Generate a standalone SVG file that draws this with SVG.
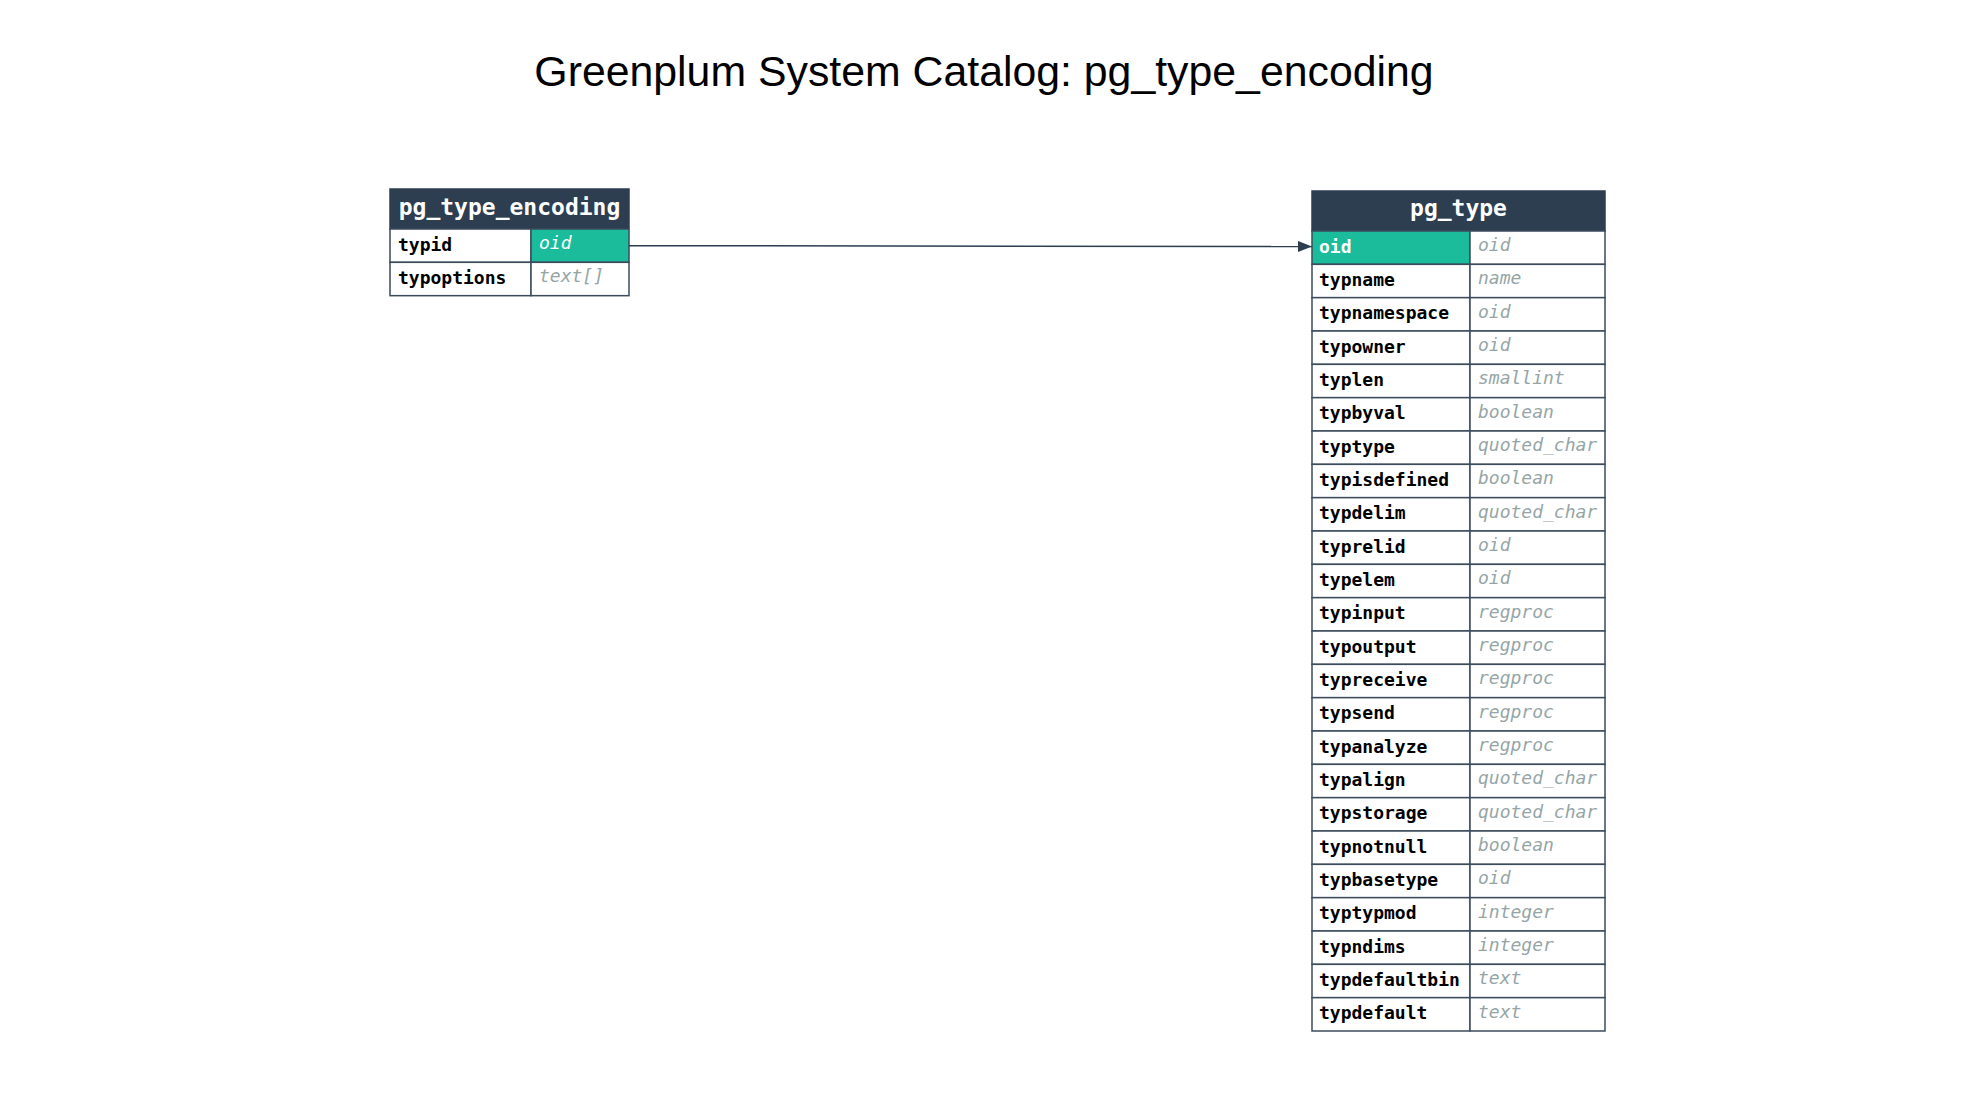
<svg xmlns="http://www.w3.org/2000/svg" width="1968" height="1105" viewBox="0 0 1968 1105">
<style>
.title{font-family:"Liberation Sans",Arial,sans-serif;font-size:42.8px;fill:#000}
.hdr{fill:#2c3e50;stroke:#2c3e50;stroke-width:1.5}
.htx{font-family:"DejaVu Sans Mono",monospace;font-weight:bold;font-size:23px;fill:#fff}
.cell{fill:#fff;stroke:#3b4b5c;stroke-width:1.5}
.pk{fill:#1abc9c;stroke:#3b4b5c;stroke-width:1.5}
.nm{font-family:"DejaVu Sans Mono",monospace;font-weight:bold;font-size:18px;fill:#000}
.ty{font-family:"DejaVu Sans Mono",monospace;font-style:italic;font-size:18px;fill:#95a5a6}
.wt{fill:#fff}
.edge{stroke:#2c3e50;stroke-width:1.5;fill:none}
</style>
<defs>
<marker id="arr" viewBox="0 0 10 10" refX="10" refY="5" markerWidth="14" markerHeight="11" markerUnits="userSpaceOnUse" orient="auto" preserveAspectRatio="none">
<path d="M0,0 L10,5 L0,10 Z" fill="#2c3e50"/>
</marker>
</defs>
<rect width="1968" height="1105" fill="#fff"/>
<text class="title" x="984" y="86" text-anchor="middle">Greenplum System Catalog: pg_type_encoding</text>

<g id="pg_type_encoding">
<rect class="hdr" x="390" y="189" width="239" height="40"/>
<text class="htx" x="509.5" y="215" text-anchor="middle">pg_type_encoding</text>
<rect class="cell" x="390" y="229" width="141" height="33.33"/>
<rect class="pk" x="531" y="229" width="98" height="33.33"/>
<text class="nm" x="398" y="251">typid</text>
<text class="ty wt" x="539" y="249">oid</text>
<rect class="cell" x="390" y="262.33" width="141" height="33.33"/>
<rect class="cell" x="531" y="262.33" width="98" height="33.33"/>
<text class="nm" x="398" y="284.3">typoptions</text>
<text class="ty" x="539" y="282.3">text[]</text>
</g>

<g id="pg_type">
<rect class="hdr" x="1312" y="191" width="293" height="40"/>
<text class="htx" x="1458.5" y="216" text-anchor="middle">pg_type</text>
<rect class="pk" x="1312" y="231" width="158" height="33.33"/>
<rect class="cell" x="1470" y="231" width="135" height="33.33"/>
<text class="nm wt" x="1319" y="252.5">oid</text>
<text class="ty" x="1478" y="251">oid</text>
<g transform="translate(0,33.333)"><rect class="cell" x="1312" y="231" width="158" height="33.33"/><rect class="cell" x="1470" y="231" width="135" height="33.33"/><text class="nm" x="1319" y="252.5">typname</text><text class="ty" x="1478" y="251">name</text></g>
<g transform="translate(0,66.667)"><rect class="cell" x="1312" y="231" width="158" height="33.33"/><rect class="cell" x="1470" y="231" width="135" height="33.33"/><text class="nm" x="1319" y="252.5">typnamespace</text><text class="ty" x="1478" y="251">oid</text></g>
<g transform="translate(0,100)"><rect class="cell" x="1312" y="231" width="158" height="33.33"/><rect class="cell" x="1470" y="231" width="135" height="33.33"/><text class="nm" x="1319" y="252.5">typowner</text><text class="ty" x="1478" y="251">oid</text></g>
<g transform="translate(0,133.333)"><rect class="cell" x="1312" y="231" width="158" height="33.33"/><rect class="cell" x="1470" y="231" width="135" height="33.33"/><text class="nm" x="1319" y="252.5">typlen</text><text class="ty" x="1478" y="251">smallint</text></g>
<g transform="translate(0,166.667)"><rect class="cell" x="1312" y="231" width="158" height="33.33"/><rect class="cell" x="1470" y="231" width="135" height="33.33"/><text class="nm" x="1319" y="252.5">typbyval</text><text class="ty" x="1478" y="251">boolean</text></g>
<g transform="translate(0,200)"><rect class="cell" x="1312" y="231" width="158" height="33.33"/><rect class="cell" x="1470" y="231" width="135" height="33.33"/><text class="nm" x="1319" y="252.5">typtype</text><text class="ty" x="1478" y="251">quoted_char</text></g>
<g transform="translate(0,233.333)"><rect class="cell" x="1312" y="231" width="158" height="33.33"/><rect class="cell" x="1470" y="231" width="135" height="33.33"/><text class="nm" x="1319" y="252.5">typisdefined</text><text class="ty" x="1478" y="251">boolean</text></g>
<g transform="translate(0,266.667)"><rect class="cell" x="1312" y="231" width="158" height="33.33"/><rect class="cell" x="1470" y="231" width="135" height="33.33"/><text class="nm" x="1319" y="252.5">typdelim</text><text class="ty" x="1478" y="251">quoted_char</text></g>
<g transform="translate(0,300)"><rect class="cell" x="1312" y="231" width="158" height="33.33"/><rect class="cell" x="1470" y="231" width="135" height="33.33"/><text class="nm" x="1319" y="252.5">typrelid</text><text class="ty" x="1478" y="251">oid</text></g>
<g transform="translate(0,333.333)"><rect class="cell" x="1312" y="231" width="158" height="33.33"/><rect class="cell" x="1470" y="231" width="135" height="33.33"/><text class="nm" x="1319" y="252.5">typelem</text><text class="ty" x="1478" y="251">oid</text></g>
<g transform="translate(0,366.667)"><rect class="cell" x="1312" y="231" width="158" height="33.33"/><rect class="cell" x="1470" y="231" width="135" height="33.33"/><text class="nm" x="1319" y="252.5">typinput</text><text class="ty" x="1478" y="251">regproc</text></g>
<g transform="translate(0,400)"><rect class="cell" x="1312" y="231" width="158" height="33.33"/><rect class="cell" x="1470" y="231" width="135" height="33.33"/><text class="nm" x="1319" y="252.5">typoutput</text><text class="ty" x="1478" y="251">regproc</text></g>
<g transform="translate(0,433.333)"><rect class="cell" x="1312" y="231" width="158" height="33.33"/><rect class="cell" x="1470" y="231" width="135" height="33.33"/><text class="nm" x="1319" y="252.5">typreceive</text><text class="ty" x="1478" y="251">regproc</text></g>
<g transform="translate(0,466.667)"><rect class="cell" x="1312" y="231" width="158" height="33.33"/><rect class="cell" x="1470" y="231" width="135" height="33.33"/><text class="nm" x="1319" y="252.5">typsend</text><text class="ty" x="1478" y="251">regproc</text></g>
<g transform="translate(0,500)"><rect class="cell" x="1312" y="231" width="158" height="33.33"/><rect class="cell" x="1470" y="231" width="135" height="33.33"/><text class="nm" x="1319" y="252.5">typanalyze</text><text class="ty" x="1478" y="251">regproc</text></g>
<g transform="translate(0,533.333)"><rect class="cell" x="1312" y="231" width="158" height="33.33"/><rect class="cell" x="1470" y="231" width="135" height="33.33"/><text class="nm" x="1319" y="252.5">typalign</text><text class="ty" x="1478" y="251">quoted_char</text></g>
<g transform="translate(0,566.667)"><rect class="cell" x="1312" y="231" width="158" height="33.33"/><rect class="cell" x="1470" y="231" width="135" height="33.33"/><text class="nm" x="1319" y="252.5">typstorage</text><text class="ty" x="1478" y="251">quoted_char</text></g>
<g transform="translate(0,600)"><rect class="cell" x="1312" y="231" width="158" height="33.33"/><rect class="cell" x="1470" y="231" width="135" height="33.33"/><text class="nm" x="1319" y="252.5">typnotnull</text><text class="ty" x="1478" y="251">boolean</text></g>
<g transform="translate(0,633.333)"><rect class="cell" x="1312" y="231" width="158" height="33.33"/><rect class="cell" x="1470" y="231" width="135" height="33.33"/><text class="nm" x="1319" y="252.5">typbasetype</text><text class="ty" x="1478" y="251">oid</text></g>
<g transform="translate(0,666.667)"><rect class="cell" x="1312" y="231" width="158" height="33.33"/><rect class="cell" x="1470" y="231" width="135" height="33.33"/><text class="nm" x="1319" y="252.5">typtypmod</text><text class="ty" x="1478" y="251">integer</text></g>
<g transform="translate(0,700)"><rect class="cell" x="1312" y="231" width="158" height="33.33"/><rect class="cell" x="1470" y="231" width="135" height="33.33"/><text class="nm" x="1319" y="252.5">typndims</text><text class="ty" x="1478" y="251">integer</text></g>
<g transform="translate(0,733.333)"><rect class="cell" x="1312" y="231" width="158" height="33.33"/><rect class="cell" x="1470" y="231" width="135" height="33.33"/><text class="nm" x="1319" y="252.5">typdefaultbin</text><text class="ty" x="1478" y="251">text</text></g>
<g transform="translate(0,766.667)"><rect class="cell" x="1312" y="231" width="158" height="33.33"/><rect class="cell" x="1470" y="231" width="135" height="33.33"/><text class="nm" x="1319" y="252.5">typdefault</text><text class="ty" x="1478" y="251">text</text></g>
</g>

<g id="connectors">
<path class="edge" d="M629,245.7 L1312,246.5" marker-end="url(#arr)"/>
</g>
</svg>
